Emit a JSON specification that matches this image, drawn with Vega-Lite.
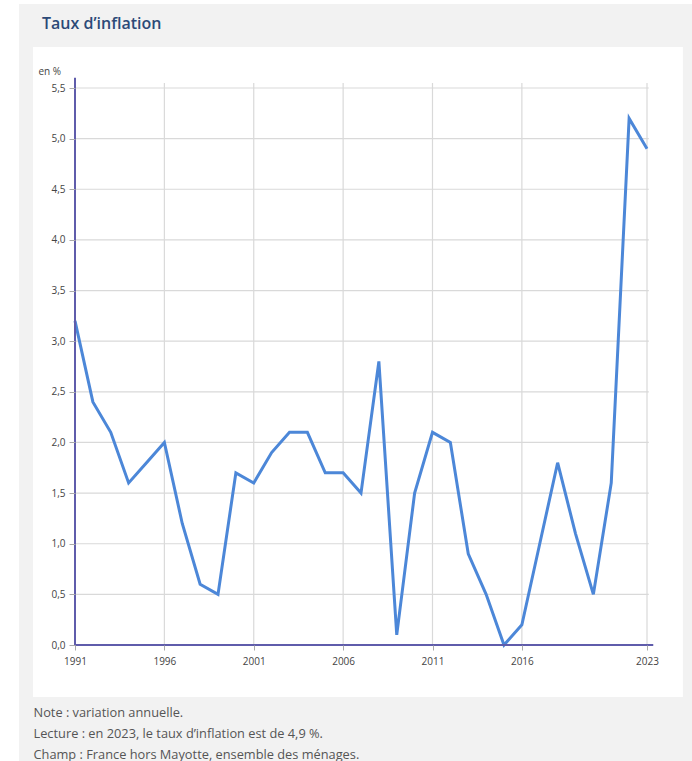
{
  "$schema": "https://vega.github.io/schema/vega-lite/v6.json",
  "width": 572,
  "height": 557,
  "autosize": "none",
  "padding": {"left": 75, "top": 88, "right": 45, "bottom": 116},
  "background": "#ffffff",
  "config": {
    "font": "Open Sans",
    "view": {"stroke": null}
  },
  "title": {
    "text": "Taux d’inflation",
    "anchor": "start",
    "frame": "group",
    "dx": -33,
    "offset": -28,
    "fontSize": 16,
    "fontWeight": 600,
    "font": "Open Sans",
    "color": "#2c4a78"
  },
  "layer": [
    {
      "data": {"values": [{"x0": 1987.867, "x1": 2026, "y0": -1.2, "y1": 6.329}]},
      "mark": {"type": "rect", "color": "#f2f2f2", "clip": false},
      "encoding": {
        "x": {"field": "x0", "type": "quantitative", "scale": {"domain": [1991, 2023], "nice": false, "zero": false},
          "axis": {
            "values": [1991, 1996, 2001, 2006, 2011, 2016, 2023],
            "format": "d",
            "grid": false,
            "domain": false,
            "zindex": 1,
            "labelFlush": false,
            "tickSize": 5,
            "tickColor": "#aaaaaa",
            "labelFontSize": 10,
            "labelColor": "#444444",
            "labelPadding": 6,
            "title": ["Note : variation annuelle.", "Lecture : en 2023, le taux d’inflation est de 4,9 %.", "Champ : France hors Mayotte, ensemble des ménages."],
            "titleX": -42,
            "titleY": 71,
            "titleAlign": "left",
            "titleAnchor": "start",
            "titleBaseline": "alphabetic",
            "titleFontSize": 12.8,
            "titleFontWeight": "normal",
            "titleColor": "#555555",
            "titleLineHeight": 21
          }},
        "x2": {"field": "x1"},
        "y": {"field": "y0", "type": "quantitative", "scale": {"domain": [0, 5.5], "nice": false},
          "axis": {
            "values": [0, 0.5, 1, 1.5, 2, 2.5, 3, 3.5, 4, 4.5, 5, 5.5],
            "labelExpr": "replace(format(datum.value, '.1f'), '.', ',')",
            "grid": false,
            "domain": false,
            "zindex": 1,
            "labelFlush": false,
            "tickSize": 6,
            "tickColor": "#aaaaaa",
            "labelFontSize": 10,
            "labelColor": "#444444",
            "labelPadding": 4,
            "title": "en %",
            "titleAngle": 0,
            "titleX": -37,
            "titleY": -14,
            "titleAlign": "left",
            "titleBaseline": "alphabetic",
            "titleFontSize": 10,
            "titleFontWeight": "normal",
            "titleColor": "#444444"
          }},
        "y2": {"field": "y1"}
      }
    },
    {
      "data": {"values": [{"x0": 1988.65, "x1": 2025.01, "y0": -0.513, "y1": 5.905}]},
      "mark": {"type": "rect", "color": "#ffffff", "clip": false},
      "encoding": {
        "x": {"field": "x0", "type": "quantitative"},
        "x2": {"field": "x1"},
        "y": {"field": "y0", "type": "quantitative"},
        "y2": {"field": "y1"}
      }
    },
    {
      "data": {"values": [{"v": 0.5}, {"v": 1}, {"v": 1.5}, {"v": 2}, {"v": 2.5}, {"v": 3}, {"v": 3.5}, {"v": 4}, {"v": 4.5}, {"v": 5}, {"v": 5.5}]},
      "mark": {"type": "rule", "color": "#d9d9d9", "strokeWidth": 1.2, "clip": false},
      "encoding": {
        "y": {"field": "v", "type": "quantitative"},
        "x": {"datum": 1991},
        "x2": {"datum": 2023.1}
      }
    },
    {
      "data": {"values": [{"yr": 1996}, {"yr": 2001}, {"yr": 2006}, {"yr": 2011}, {"yr": 2016}, {"yr": 2023}]},
      "mark": {"type": "rule", "color": "#d9d9d9", "strokeWidth": 1.2, "clip": false},
      "encoding": {
        "x": {"field": "yr", "type": "quantitative"},
        "y": {"datum": 0},
        "y2": {"datum": 5.55}
      }
    },
    {
      "data": {"values": [
        {"annee": 1991, "taux": 3.2}, {"annee": 1992, "taux": 2.4}, {"annee": 1993, "taux": 2.1},
        {"annee": 1994, "taux": 1.6}, {"annee": 1995, "taux": 1.8}, {"annee": 1996, "taux": 2.0},
        {"annee": 1997, "taux": 1.2}, {"annee": 1998, "taux": 0.6}, {"annee": 1999, "taux": 0.5},
        {"annee": 2000, "taux": 1.7}, {"annee": 2001, "taux": 1.6}, {"annee": 2002, "taux": 1.9},
        {"annee": 2003, "taux": 2.1}, {"annee": 2004, "taux": 2.1}, {"annee": 2005, "taux": 1.7},
        {"annee": 2006, "taux": 1.7}, {"annee": 2007, "taux": 1.5}, {"annee": 2008, "taux": 2.8},
        {"annee": 2009, "taux": 0.1}, {"annee": 2010, "taux": 1.5}, {"annee": 2011, "taux": 2.1},
        {"annee": 2012, "taux": 2.0}, {"annee": 2013, "taux": 0.9}, {"annee": 2014, "taux": 0.5},
        {"annee": 2015, "taux": 0.0}, {"annee": 2016, "taux": 0.2}, {"annee": 2017, "taux": 1.0},
        {"annee": 2018, "taux": 1.8}, {"annee": 2019, "taux": 1.1}, {"annee": 2020, "taux": 0.5},
        {"annee": 2021, "taux": 1.6}, {"annee": 2022, "taux": 5.2}, {"annee": 2023, "taux": 4.9}
      ]},
      "mark": {"type": "line", "color": "#4c87d8", "strokeWidth": 3, "strokeJoin": "miter", "clip": false},
      "encoding": {
        "x": {"field": "annee", "type": "quantitative"},
        "y": {"field": "taux", "type": "quantitative"}
      }
    },
    {
      "data": {"values": [{"a": 1}]},
      "mark": {"type": "rule", "color": "#5f5cab", "strokeWidth": 2, "clip": false},
      "encoding": {
        "x": {"datum": 1991},
        "y": {"datum": 0},
        "y2": {"datum": 5.6}
      }
    },
    {
      "data": {"values": [{"a": 1}]},
      "mark": {"type": "rule", "color": "#5f5cab", "strokeWidth": 2, "clip": false},
      "encoding": {
        "y": {"datum": 0},
        "x": {"datum": 1991},
        "x2": {"datum": 2023.35}
      }
    }
  ]
}
